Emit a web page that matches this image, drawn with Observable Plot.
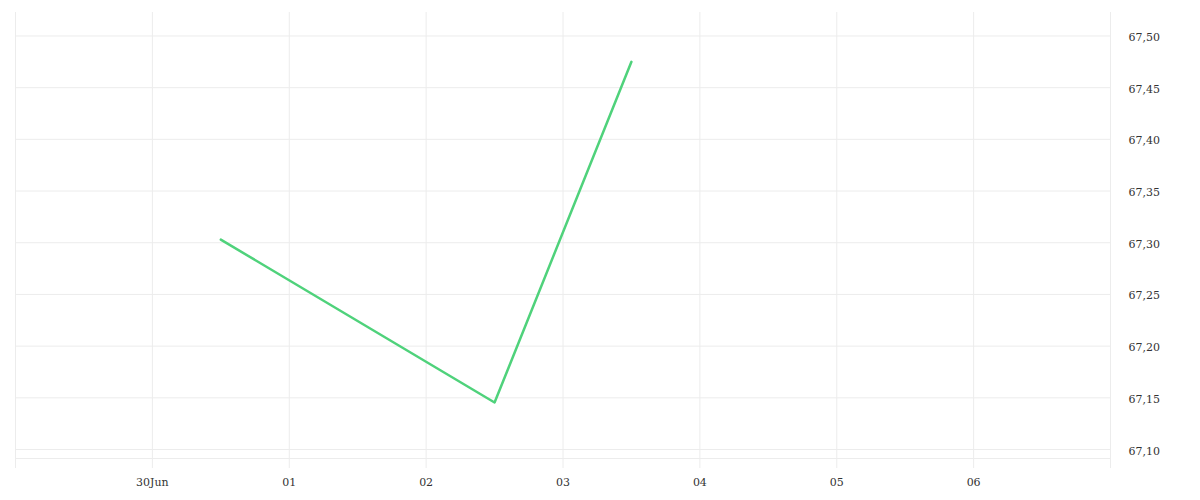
<!DOCTYPE html>
<html>
<head>
<meta charset="utf-8">
<script src="https://cdn.jsdelivr.net/npm/d3@7"></script>
<script src="https://cdn.jsdelivr.net/npm/@observablehq/plot@0.6"></script>
<style>
  html, body { margin: 0; padding: 0; background: #fff; }
</style>
</head>
<body>
<div id="chart"></div>
<script>
// Data
const dates = ["2023-06-30T12:00Z", "2023-07-02T12:00Z", "2023-07-03T12:00Z"];
const values = [67.303, 67.1455, 67.475];

// Ticks
const gridDates = ["2023-06-29", "2023-06-30", "2023-07-01", "2023-07-02", "2023-07-03", "2023-07-04", "2023-07-05", "2023-07-06", "2023-07-07"];
const labelDates = ["2023-06-30", "2023-07-01", "2023-07-02", "2023-07-03", "2023-07-04", "2023-07-05", "2023-07-06"];
const xLabels = ["30Jun", "01", "02", "03", "04", "05", "06"];
const yTicks = [67.10, 67.15, 67.20, 67.25, 67.30, 67.35, 67.40, 67.45, 67.50];

const data = dates.map((d, i) => ({date: new Date(d), value: values[i]}));
const gridD = gridDates.map(d => new Date(d + "T00:00Z"));
const labelD = labelDates.map(d => new Date(d + "T00:00Z"));
const labelMap = new Map(labelD.map((d, i) => [+d, xLabels[i]]));

const gridColor = "#ececec";

const chart = Plot.plot({
  width: 1200,
  height: 500,
  marginLeft: 15,
  marginRight: 90,
  marginTop: 12,
  marginBottom: 42,
  style: {fontFamily: "'DejaVu Serif', serif", fontSize: "11px", color: "#333", background: "#fff"},
  x: {type: "utc", domain: [gridD[0], gridD[gridD.length - 1]], label: null},
  y: {domain: [67.0913, 67.5227], label: null},
  marks: [
    Plot.ruleX(gridD, {stroke: gridColor, strokeWidth: 1, insetBottom: -10}),
    Plot.ruleY(yTicks, {stroke: gridColor, strokeWidth: 1}),
    Plot.frame({anchor: "bottom", stroke: gridColor, strokeOpacity: 1}),
    Plot.line(data, {x: "date", y: "value", stroke: "#4fd27b", strokeWidth: 2.5}),
    Plot.axisX(labelD, {anchor: "bottom", tickSize: 0, tickPadding: 20, tickFormat: d => labelMap.get(+d), fill: "#333", fontSize: 11, label: null}),
    Plot.axisY(yTicks, {anchor: "right", tickSize: 0, tickPadding: 18, dy: 1.5, tickFormat: d => d.toFixed(2).replace(".", ","), fill: "#333", fontSize: 11, label: null})
  ]
});
document.getElementById("chart").appendChild(chart);
</script>
</body>
</html>
